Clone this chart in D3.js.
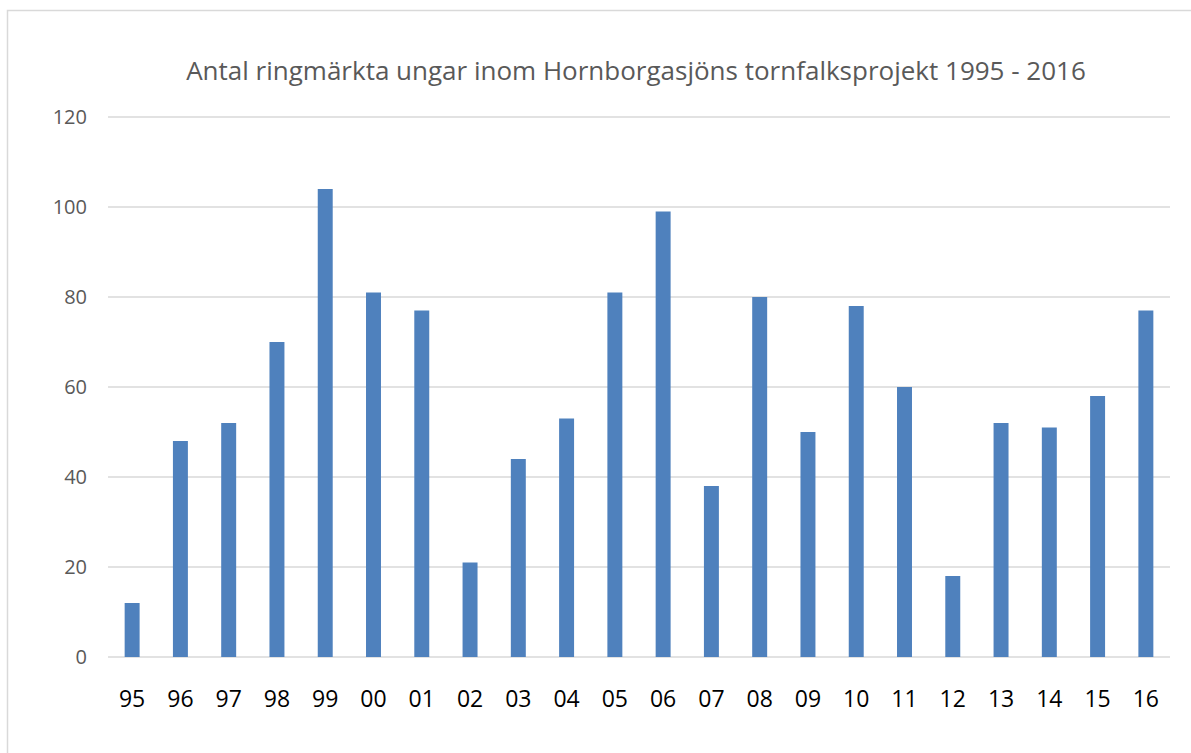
<!DOCTYPE html>
<html>
<head>
<meta charset="utf-8">
<script src="https://cdn.jsdelivr.net/npm/d3@7"></script>
<style>
  body { margin: 0; background: #fff; }
  text { font-family: "Open Sans", "Noto Sans", sans-serif; }
</style>
</head>
<body>
<svg width="1191" height="753"></svg>
<script>
const years = ["95", "96", "97", "98", "99", "00", "01", "02", "03", "04", "05",
  "06", "07", "08", "09", "10", "11", "12", "13", "14", "15", "16"];
const ringed = [12, 48, 52, 70, 104, 81, 77, 21, 44, 53, 81,
  99, 38, 80, 50, 78, 60, 18, 52, 51, 58, 77];
const yTicks = [0, 20, 40, 60, 80, 100, 120];
const title = "Antal ringmärkta ungar inom Hornborgasjöns tornfalksprojekt 1995 - 2016";

const svg = d3.select("svg");
const plotLeft = 108, plotRight = 1170, plotTop = 117, plotBottom = 657;

// chart border
svg.append("rect")
  .attr("x", 7.5).attr("y", 10.5)
  .attr("width", 1200).attr("height", 800)
  .attr("fill", "none")
  .attr("stroke", "#d9d9d9")
  .attr("stroke-width", 1.5);

const x = d3.scaleBand()
  .domain(years)
  .range([plotLeft, plotRight])
  .paddingInner(0.69)
  .paddingOuter(0.345);

const y = d3.scaleLinear()
  .domain([0, 120])
  .range([plotBottom, plotTop]);

// gridlines
svg.append("g")
  .selectAll("line")
  .data(yTicks)
  .enter().append("line")
  .attr("x1", plotLeft)
  .attr("x2", plotRight)
  .attr("y1", d => y(d))
  .attr("y2", d => y(d))
  .attr("stroke", "#d9d9d9")
  .attr("stroke-width", 1.5);

// y labels
svg.append("g")
  .selectAll("text")
  .data(yTicks)
  .enter().append("text")
  .attr("x", 87)
  .attr("y", d => y(d))
  .attr("dy", "0.36em")
  .attr("text-anchor", "end")
  .attr("fill", "#595959")
  .attr("font-size", 20)
  .text(d => d);

// bars
svg.append("g")
  .selectAll("rect")
  .data(ringed)
  .enter().append("rect")
  .attr("x", (d, i) => x(years[i]))
  .attr("width", x.bandwidth())
  .attr("y", d => y(d))
  .attr("height", d => y(0) - y(d))
  .attr("fill", "#4f81bd");

// x labels
svg.append("g")
  .selectAll("text")
  .data(years)
  .enter().append("text")
  .attr("x", d => x(d) + x.bandwidth() / 2)
  .attr("y", 707)
  .attr("text-anchor", "middle")
  .attr("fill", "#000")
  .attr("font-size", 23)
  .text(d => d);

// title
svg.append("text")
  .attr("x", 636)
  .attr("y", 80)
  .attr("text-anchor", "middle")
  .attr("fill", "#595959")
  .attr("font-size", 26)
  .text(title);
</script>
</body>
</html>
